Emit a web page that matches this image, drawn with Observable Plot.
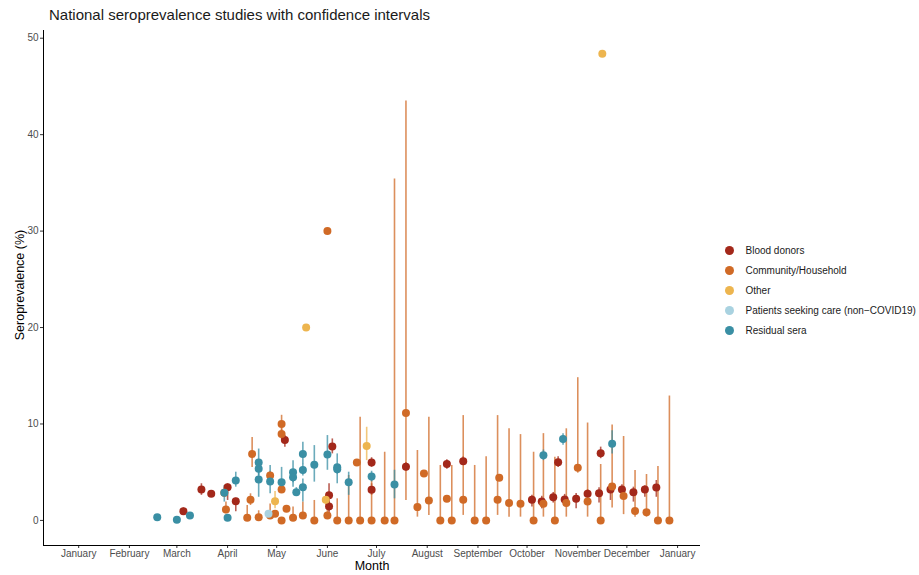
<!DOCTYPE html>
<html><head><meta charset="utf-8">
<script src="https://cdn.jsdelivr.net/npm/d3@7"></script>
<script src="https://cdn.jsdelivr.net/npm/@observablehq/plot@0.6"></script>
<style>
body{margin:0;background:#fff;font-family:"Liberation Sans",Arial,sans-serif;}
#wrap{position:relative;width:919px;height:575px;overflow:hidden;}
#title{height:28px;padding-left:49px;font-size:15px;line-height:30px;color:#1a1a1a;white-space:nowrap;}
#ylab{position:absolute;left:20px;top:285px;transform:translate(-50%,-50%) rotate(-90deg);font-size:12.5px;color:#000;white-space:nowrap;}
#xlab{position:absolute;left:372px;top:566px;transform:translate(-50%,-50%);font-size:12.5px;color:#000;}
#legend{position:absolute;left:724px;top:241px;font-size:10px;color:#1a1a1a;}
.li{height:19.8px;display:flex;align-items:center;}
.sw{width:9px;height:9px;border-radius:50%;margin-right:12px;margin-left:0.5px;}
</style></head><body>
<div id="wrap">
<div id="title">National seroprevalence studies with confidence intervals</div>
<div id="chart"></div>
<div id="ylab">Seroprevalence (%)</div>
<div id="xlab">Month</div>
<div id="legend"></div>
</div>
<script>
const categories = ["Blood donors", "Community/Household", "Other", "Patients seeking care (non\u2212COVID19)", "Residual sera"];
const colors = ["#A3281A", "#D06A26", "#EDB54F", "#A9D2E0", "#3A8FA4"];
const yTicks = [0, 10, 20, 30, 40, 50];

// [date, estimate, lower CI, upper CI]
const bloodDonors = [
  ["2020-03-05", 0.96, 0.7, 1.3], ["2020-03-16", 3.2, 2.6, 3.8], ["2020-03-22", 2.76, 2.4, 3.1],
  ["2020-04-01", 3.45, 2.07, 3.8], ["2020-04-06", 2.0, 0.9, 2.3], ["2020-05-06", 8.35, 7.6, 8.8],
  ["2020-06-02", 2.6, 0.34, 3.8], ["2020-06-02", 1.45, 1.0, 2.0], ["2020-06-04", 7.66, 6.9, 8.45],
  ["2020-06-28", 6.0, 5.5, 6.5], ["2020-06-28", 3.17, 2.6, 3.8], ["2020-07-19", 5.56, 5.1, 6.0],
  ["2020-08-13", 5.86, 5.3, 6.3], ["2020-08-23", 6.14, 5.7, 6.6], ["2020-10-04", 2.14, 1.4, 2.6],
  ["2020-10-10", 1.97, 1.2, 2.5], ["2020-10-17", 2.41, 1.8, 2.9], ["2020-10-20", 6.04, 5.5, 6.6],
  ["2020-10-24", 2.17, 1.5, 2.7], ["2020-10-31", 2.24, 1.2, 2.8], ["2020-11-07", 2.76, 1.7, 3.2],
  ["2020-11-14", 2.83, 1.8, 3.4], ["2020-11-15", 6.97, 6.4, 7.6], ["2020-11-21", 3.2, 2.07, 3.8],
  ["2020-11-28", 3.2, 2.4, 3.7], ["2020-12-05", 2.93, 1.9, 3.45], ["2020-12-12", 3.2, 2.4, 3.6],
  ["2020-12-19", 3.41, 2.4, 4.14]
];
const community = [
  ["2020-03-30", 2.87, 2.4, 3.3], ["2020-03-31", 1.14, 0.69, 1.9], ["2020-04-13", 0.28, 0.1, 1.55],
  ["2020-04-15", 2.14, 1.55, 2.76], ["2020-04-16", 6.9, 5.5, 8.6], ["2020-04-20", 0.34, 0.2, 1.0],
  ["2020-04-27", 4.66, 4.2, 5.1], ["2020-04-27", 0.52, 0.3, 1.7], ["2020-04-30", 0.69, 0.4, 1.0],
  ["2020-05-04", 10.0, 9.1, 10.9], ["2020-05-04", 8.97, 8.4, 9.5], ["2020-05-04", 3.2, 2.8, 3.6],
  ["2020-05-04", 0.0, 0.0, 0.3], ["2020-05-07", 1.2, 0.9, 1.5], ["2020-05-11", 0.28, 0.1, 1.38],
  ["2020-05-17", 0.52, 0.3, 1.9], ["2020-05-24", 0.0, 0.0, 2.07], ["2020-06-01", 0.52, 0.3, 1.38],
  ["2020-06-01", 30.0, 29.8, 30.2], ["2020-06-07", 0.0, 0.0, 2.24], ["2020-06-14", 0.0, 0.0, 4.66],
  ["2020-06-19", 6.0, 5.8, 6.2], ["2020-06-21", 0.0, 0.0, 10.7], ["2020-06-28", 0.0, 0.0, 4.14],
  ["2020-07-06", 0.0, 0.0, 7.07], ["2020-07-12", 0.0, 0.0, 35.4], ["2020-07-19", 11.15, 2.07, 43.5],
  ["2020-07-26", 1.38, 0.34, 7.25], ["2020-07-30", 4.87, 4.7, 5.0], ["2020-08-02", 2.07, 0.52, 10.7],
  ["2020-08-09", 0.0, 0.0, 5.7], ["2020-08-13", 2.24, 2.1, 2.4], ["2020-08-16", 0.0, 0.0, 5.7],
  ["2020-08-23", 2.14, 0.52, 10.87], ["2020-08-30", 0.0, 0.0, 5.7], ["2020-09-06", 0.0, 0.0, 6.6],
  ["2020-09-13", 2.14, 0.52, 10.87], ["2020-09-14", 4.42, 4.3, 4.6], ["2020-09-20", 1.8, 0.34, 9.5],
  ["2020-09-27", 1.73, 0.34, 8.9], ["2020-10-05", 0.0, 0.0, 7.07], ["2020-10-11", 1.73, 0.34, 9.0],
  ["2020-10-18", 0.0, 0.0, 6.55], ["2020-10-25", 1.8, 0.34, 9.5], ["2020-11-01", 5.45, 4.9, 14.8],
  ["2020-11-07", 1.97, 0.34, 10.1], ["2020-11-15", 0.0, 0.0, 5.8], ["2020-11-22", 3.52, 1.3, 9.9],
  ["2020-11-29", 2.52, 0.6, 8.7], ["2020-12-06", 0.97, 0.34, 5.17], ["2020-12-13", 0.86, 0.34, 4.76],
  ["2020-12-20", 0.0, 0.0, 5.59], ["2020-12-27", 0.0, 0.0, 12.9]
];
const other = [
  ["2020-04-30", 2.0, 1.2, 3.0], ["2020-05-19", 20.0, 19.8, 20.2], ["2020-05-31", 2.14, 1.55, 2.6],
  ["2020-06-25", 7.73, 6.2, 9.66], ["2020-11-16", 48.4, 48.3, 48.5]
];
const patients = [
  ["2020-04-26", 0.69, 0.5, 0.9]
];
const residualSera = [
  ["2020-02-18", 0.34, 0.2, 0.5], ["2020-03-01", 0.07, 0.0, 0.2], ["2020-03-09", 0.5, 0.3, 0.7],
  ["2020-03-30", 2.87, 1.9, 3.6], ["2020-04-01", 0.28, 0.1, 0.5], ["2020-04-06", 4.14, 3.45, 5.0],
  ["2020-04-20", 6.0, 5.3, 7.4], ["2020-04-20", 5.35, 4.6, 6.1], ["2020-04-20", 4.24, 2.4, 5.2],
  ["2020-04-27", 4.04, 2.76, 5.7], ["2020-05-04", 3.97, 2.87, 5.5], ["2020-05-11", 5.0, 3.45, 6.2],
  ["2020-05-11", 4.48, 3.9, 5.1], ["2020-05-13", 2.93, 2.5, 3.4], ["2020-05-17", 6.9, 5.87, 8.1],
  ["2020-05-17", 5.24, 4.6, 5.9], ["2020-05-17", 3.45, 1.9, 4.3], ["2020-05-24", 5.76, 3.97, 7.76],
  ["2020-06-01", 6.83, 5.2, 8.8], ["2020-06-07", 5.52, 3.8, 6.9], ["2020-06-07", 5.3, 4.8, 5.8],
  ["2020-06-14", 3.97, 2.6, 5.0], ["2020-06-28", 4.55, 4.0, 5.1], ["2020-07-12", 3.73, 2.24, 5.2],
  ["2020-10-11", 6.76, 6.2, 7.3], ["2020-10-23", 8.45, 7.8, 9.0], ["2020-11-22", 7.94, 6.9, 9.3]
];

const seriesList = [bloodDonors, community, other, patients, residualSera];
const data = [];
seriesList.forEach((s, i) => s.forEach(([d, v, lo, hi]) =>
  data.push({date: new Date(d + "T00:00:00Z"), value: v, lo, hi, category: categories[i]})));

const xDomain = [new Date("2019-12-10T12:00:00Z"), new Date("2021-01-15T00:00:00Z")];
const yDomain = [-2.6, 50.8];
const monthTicks = d3.utcMonths(new Date("2020-01-01T00:00:00Z"), new Date("2021-01-02T00:00:00Z"));

const chart = Plot.plot({
  width: 919, height: 547,
  marginTop: 2, marginBottom: 30, marginLeft: 43, marginRight: 219,
  style: {fontFamily: "Liberation Sans, Arial, sans-serif", fontSize: "10px", background: "#fff"},
  x: {type: "utc", domain: xDomain},
  y: {domain: yDomain},
  color: {domain: categories, range: colors},
  marks: [
    Plot.ruleX(data, {x: "date", y1: "lo", y2: "hi", stroke: "category", strokeWidth: 1.6, strokeOpacity: 0.75}),
    Plot.dot(data, {x: "date", y: "value", fill: "category", r: 4, stroke: "none"}),
    Plot.axisY(yTicks, {tickSize: 3, tickPadding: 2, stroke: "#333", fill: "#4d4d4d", label: null, fontSize: 10}),
    Plot.axisX(monthTicks, {tickSize: 3, tickPadding: 1, stroke: "#333", fill: "#4d4d4d", label: null,
      tickFormat: d3.utcFormat("%B"), fontSize: 10}),
    Plot.ruleY([yDomain[0]], {stroke: "#000", strokeWidth: 1}),
    Plot.ruleX([xDomain[0]], {stroke: "#000", strokeWidth: 1})
  ]
});
document.getElementById("chart").appendChild(chart);

const legend = document.getElementById("legend");
categories.forEach((c, i) => {
  const row = document.createElement("div");
  row.className = "li";
  const sw = document.createElement("span");
  sw.className = "sw";
  sw.style.background = colors[i];
  const t = document.createElement("span");
  t.textContent = c;
  row.appendChild(sw); row.appendChild(t);
  legend.appendChild(row);
});
</script>
</body></html>
